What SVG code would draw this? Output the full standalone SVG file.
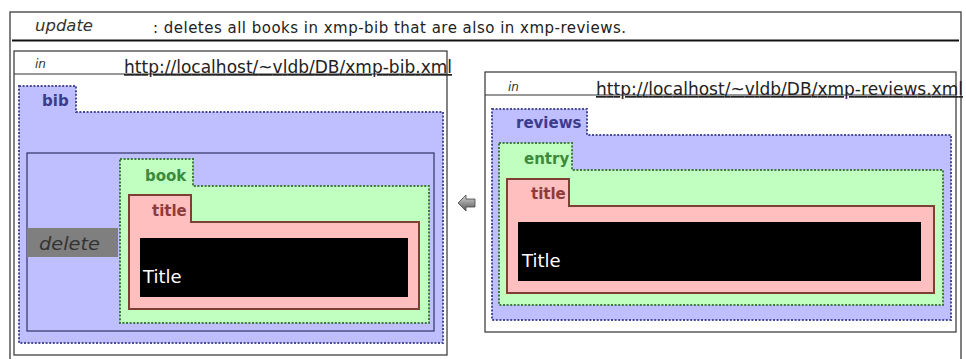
<svg xmlns="http://www.w3.org/2000/svg" width="966" height="359" viewBox="0 0 966 359">
<defs>
<style>
.frame{fill:#fff;stroke:#555;stroke-width:1.5}
.inbox{fill:#fff;stroke:#333;stroke-width:1.2}
.blue{fill:#bfbfff;stroke:#4a4a9a;stroke-width:2;stroke-dasharray:2 1.6}
.green{fill:#c0ffc0;stroke:#3d7a3d;stroke-width:2;stroke-dasharray:2 1.6}
.pink{fill:#ffbfbf;stroke:#7f3f33;stroke-width:2}
.blk{fill:#000}
.lblB{font-family:"DejaVu Sans",sans-serif;font-weight:bold;font-size:15px;fill:#3c3c8c}
.lblG{font-family:"DejaVu Sans",sans-serif;font-weight:bold;font-size:15px;fill:#3c8a3c}
.lblP{font-family:"DejaVu Sans",sans-serif;font-weight:bold;font-size:15px;fill:#8c3c3c}
.val{font-family:"DejaVu Sans",sans-serif;font-size:18px;fill:#fff}
.kw{font-family:"DejaVu Sans",sans-serif;font-style:oblique;fill:#333}
.url{font-family:"DejaVu Sans",sans-serif;font-size:17px;fill:#222;text-decoration:underline}
.desc{font-family:"DejaVu Sans",sans-serif;font-size:15px;fill:#222}
</style>
<linearGradient id="ag" x1="0" y1="0" x2="0" y2="1">
<stop offset="0" stop-color="#d8d8d8"/>
<stop offset="1" stop-color="#555"/>
</linearGradient>
</defs>
<rect width="966" height="359" fill="#fff"/>
<g id="frame">
<path d="M10,362 V12 H961 V362" class="frame"/>
<line x1="12" y1="40.5" x2="959" y2="40.5" stroke="#111" stroke-width="2"/>
<text x="35" y="31" class="kw" font-size="16" textLength="58" lengthAdjust="spacingAndGlyphs">update</text>
<text x="153" y="33" class="desc" textLength="473" lengthAdjust="spacing">: deletes all books in xmp-bib that are also in xmp-reviews.</text>
</g>
<g id="in-bib">
<rect x="14" y="51" width="433" height="304" class="inbox"/>
<line x1="14" y1="74" x2="447" y2="74" stroke="#333" stroke-width="1.2"/>
<text x="35" y="68" class="kw" font-size="12">in</text>
<text x="124" y="73" class="url" textLength="328" lengthAdjust="spacing">http://localhost/~vldb/DB/xmp-bib.xml</text>
</g>
<g id="bib">
<path d="M19,86 H76 V112 H443 V343 H19 Z" class="blue"/>
<text x="42" y="106" class="lblB">bib</text>
</g>
<g id="delete">
<rect x="27" y="153" width="407" height="178" fill="#bfbfff" stroke="#333366" stroke-width="1.2"/>
<rect x="27" y="228" width="91" height="29" fill="#7f7f7f"/>
<text x="39" y="250" class="kw" font-size="18" textLength="61" lengthAdjust="spacingAndGlyphs">delete</text>
</g>
<g id="book">
<path d="M120,159 H193 V186 H429 V323 H120 Z" class="green"/>
<text x="145" y="181" class="lblG">book</text>
</g>
<g id="book-title">
<path d="M129,195 H191 V222 H419 V309 H129 Z" class="pink"/>
<text x="152" y="216" class="lblP">title</text>
</g>
<g id="book-title-value">
<rect x="140" y="238" width="268" height="59" class="blk"/>
<text x="143" y="283" class="val">Title</text>
</g>
<g id="in-reviews">
<rect x="485" y="72" width="471" height="260" class="inbox"/>
<line x1="485" y1="95" x2="956" y2="95" stroke="#333" stroke-width="1.2"/>
<text x="508" y="91" class="kw" font-size="12">in</text>
<text x="596" y="95" class="url" textLength="367" lengthAdjust="spacing">http://localhost/~vldb/DB/xmp-reviews.xml</text>
</g>
<g id="reviews">
<path d="M492,109 H587 V135 H951 V320 H492 Z" class="blue"/>
<text x="516" y="128" class="lblB">reviews</text>
</g>
<g id="entry">
<path d="M499,143 H572 V170 H943 V305 H499 Z" class="green"/>
<text x="524" y="164" class="lblG">entry</text>
</g>
<g id="entry-title">
<path d="M507,179 H569 V206 H934 V293 H507 Z" class="pink"/>
<text x="531" y="199" class="lblP">title</text>
</g>
<g id="entry-title-value">
<rect x="518" y="222" width="403" height="59" class="blk"/>
<text x="522" y="267" class="val">Title</text>
</g>
<g id="connectors">
<path d="M458,203 L466,195 V199 H475 V207 H466 V211 Z" fill="url(#ag)" stroke="#444" stroke-width="0.8" stroke-linejoin="round"/>
</g>
</svg>
